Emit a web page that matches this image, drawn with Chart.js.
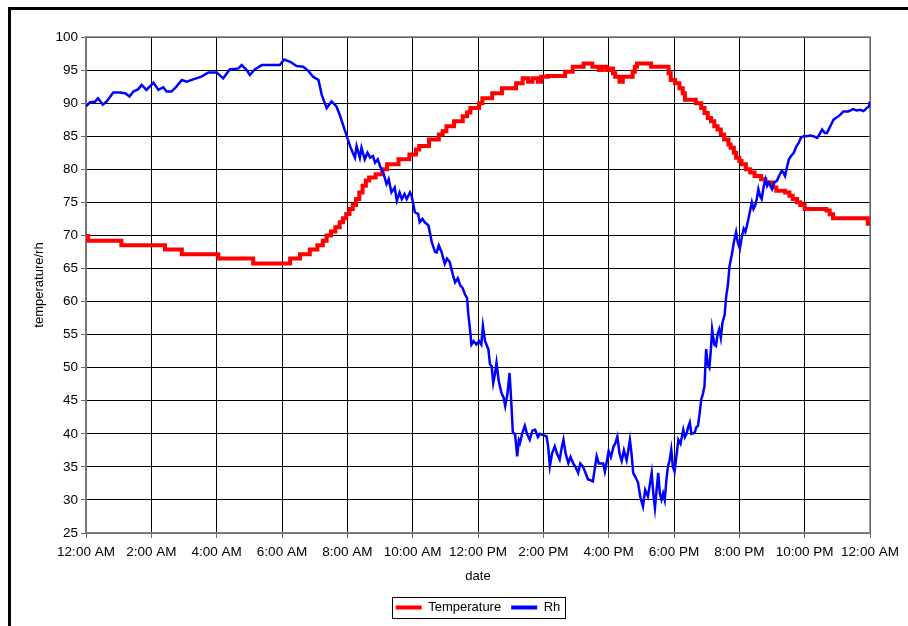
<!DOCTYPE html>
<html>
<head>
<meta charset="utf-8">
<script src="https://cdn.jsdelivr.net/npm/chart.js@4.4.1/dist/chart.umd.min.js"></script>
<style>
  body { margin: 0; background: #fff; overflow: hidden; }
  #frame { position: absolute; left: 8px; top: 7px; width: 1000px; height: 700px; border: 3px solid #000; }
  #tempChart { position: absolute; left: 0; top: 0; }
</style>
</head>
<body>
<div id="frame"></div>
<canvas id="tempChart" width="908" height="626"></canvas>
<script>
// minutes since midnight
const tempTime = [0, 4, 65, 145, 176, 243, 307, 375, 393, 411, 425, 435, 442, 450, 458, 466, 472, 478, 484, 490, 496, 502, 508, 514, 520, 532, 544, 553, 574, 594, 606, 612, 630, 648, 655, 662, 676, 692, 700, 706, 722, 728, 746, 764, 790, 802, 812, 820, 830, 836, 848, 880, 894, 914, 930, 942, 948, 956, 962, 968, 972, 980, 986, 1004, 1008, 1012, 1038, 1070, 1074, 1082, 1090, 1096, 1100, 1120, 1130, 1136, 1142, 1148, 1154, 1160, 1166, 1172, 1180, 1184, 1190, 1194, 1200, 1204, 1212, 1220, 1228, 1240, 1248, 1262, 1268, 1284, 1292, 1298, 1306, 1312, 1320, 1360, 1366, 1372, 1436, 1440];
const tempValue = [69.9, 69.2, 68.5, 67.85, 67.15, 66.5, 65.75, 66.5, 67.15, 67.85, 68.5, 69.2, 70, 70.6, 71.25, 72, 72.6, 73.25, 74, 74.6, 75.5, 76.5, 77.5, 78.3, 78.75, 79.25, 80, 80.75, 81.5, 82.25, 83, 83.5, 84.5, 85.25, 85.75, 86.5, 87.25, 88, 88.6, 89.25, 90, 90.75, 91.5, 92.25, 93, 93.75, 93.25, 93.75, 93.25, 94, 94.1, 94.75, 95.5, 96, 95.5, 95, 95.5, 95, 95.25, 94.5, 94, 93.25, 94, 94.75, 95.5, 96, 95.5, 94.5, 93.5, 93, 92.25, 91.5, 90.5, 90, 89.25, 88.5, 87.75, 87.25, 86.5, 86, 85.25, 84.5, 83.75, 83.25, 82.5, 81.75, 81.25, 80.75, 80, 79.5, 79, 78.5, 78, 77.25, 76.75, 76.5, 76, 75.5, 75, 74.6, 74, 73.75, 73.2, 72.6, 71.75, 71.75];

const rhTime = [0, 7, 17, 22, 31, 38, 50, 62, 72, 80, 87, 96, 102, 111, 124, 133, 142, 148, 157, 166, 176, 185, 197, 212, 225, 240, 252, 264, 280, 286, 295, 301, 310, 323, 356, 364, 375, 387, 399, 408, 417, 427, 433, 442, 451, 460, 466, 473, 479, 485, 490, 494, 497, 503, 506, 512, 517, 522, 527, 531, 536, 540, 546, 552, 556, 561, 567, 571, 576, 580, 585, 589, 595, 598, 604, 610, 613, 618, 622, 629, 635, 641, 644, 648, 653, 659, 663, 668, 674, 678, 683, 687, 692, 696, 700, 702, 705, 708, 712, 717, 722, 726, 729, 733, 739, 742, 745, 748, 751, 754, 758, 763, 767, 770, 774, 778, 781, 784, 788, 792, 795, 797, 801, 806, 810, 815, 820, 825, 830, 834, 840, 846, 849, 852, 856, 861, 865, 870, 874, 877, 881, 886, 890, 895, 899, 904, 908, 913, 918, 922, 926, 931, 935, 938, 942, 947, 950, 953, 957, 960, 964, 969, 972, 976, 980, 984, 988, 993, 996, 999, 1002, 1005, 1009, 1014, 1018, 1023, 1027, 1032, 1035, 1039, 1042, 1045, 1048, 1051, 1054, 1057, 1060, 1063, 1066, 1069, 1072, 1075, 1078, 1081, 1085, 1088, 1092, 1097, 1100, 1103, 1106, 1109, 1112, 1118, 1121, 1124, 1127, 1130, 1133, 1136, 1139, 1142, 1145, 1148, 1150, 1154, 1157, 1160, 1163, 1166, 1169, 1173, 1176, 1179, 1182, 1186, 1190, 1194, 1197, 1201, 1205, 1208, 1211, 1214, 1218, 1223, 1226, 1229, 1232, 1235, 1238, 1241, 1245, 1248, 1251, 1254, 1257, 1260, 1264, 1269, 1273, 1278, 1281, 1284, 1288, 1291, 1295, 1300, 1305, 1309, 1313, 1318, 1324, 1330, 1336, 1343, 1347, 1352, 1357, 1361, 1364, 1367, 1370, 1373, 1378, 1382, 1386, 1391, 1400, 1409, 1415, 1422, 1428, 1434, 1438, 1440];
const rhValue = [89.5, 90.1, 90.25, 90.75, 89.75, 90.25, 91.6, 91.6, 91.5, 91, 91.75, 92.1, 92.75, 92, 93.1, 92, 92.4, 91.75, 91.75, 92.5, 93.5, 93.25, 93.6, 94, 94.65, 94.65, 93.75, 95.1, 95.25, 95.75, 95, 94.25, 95.1, 95.75, 95.75, 96.6, 96.25, 95.6, 95.5, 94.9, 94, 93.5, 91.25, 89.25, 90.25, 89.5, 88.25, 86.5, 85, 83.5, 82.5, 81.75, 83.5, 81.75, 83.25, 81.5, 82.5, 81.75, 82, 81, 81.5, 80.5, 79.5, 77.75, 78.5, 76.5, 77.25, 75.25, 76.5, 75.5, 76.25, 75.5, 76.5, 76, 73.5, 73.25, 72, 72.5, 72, 71.5, 69, 67.5, 67.4, 68.5, 67.5, 65.7, 66.5, 66, 64, 62.9, 63.5, 62.5, 62, 61.1, 60.5, 58.3, 56, 53.5, 54, 53.5, 54, 53.5, 56.3, 54, 52.8, 50.5, 50.25, 47.7, 49, 50.75, 48, 46.2, 45.5, 44.2, 46, 49.2, 45, 40.15, 40, 36.6, 39, 38.6, 40, 41.2, 40, 39.1, 40.5, 40.6, 39.5, 40, 39.8, 39.6, 38, 35.1, 37, 38.1, 37, 36.1, 38, 39.1, 37, 35.6, 36.5, 35.5, 35, 34.1, 35.5, 35, 34, 33.1, 33, 32.8, 35, 36.6, 35.5, 35.5, 35.5, 34.3, 36, 37.4, 36.5, 38.1, 38.5, 39.6, 37, 35.9, 37.5, 36, 37.5, 39.1, 37, 34.1, 33.5, 32.6, 30.5, 29, 31.5, 30.55, 32, 34.1, 31, 28.8, 31.5, 34.1, 31, 30.05, 31, 30, 33, 35.1, 36, 37.6, 35, 34.3, 37, 39.1, 38.5, 40.6, 39.5, 40, 41, 41.7, 40, 40.15, 41, 41.2, 43, 45.2, 46, 47.2, 52.8, 50.5, 50, 53, 55.8, 53.5, 53.3, 55, 55.8, 54.5, 56.8, 58, 60.9, 62.5, 65.4, 67, 69, 70.5, 69, 68, 70, 71, 70.5, 71.5, 73, 75, 74, 74.5, 75.5, 77, 76, 75.5, 77.5, 78.5, 77.5, 78, 77.5, 77, 78, 78.25, 79, 79.75, 79.5, 79, 80.5, 81.5, 82, 82.5, 83.5, 84, 84.75, 85, 85, 85.1, 85, 84.75, 85.25, 86, 85.5, 85.5, 86, 86.5, 87, 87.5, 87.8, 88, 88.3, 88.75, 88.75, 89.1, 88.9, 89, 88.8, 89.25, 89.5, 90.25];

const xTickLabels = ['12:00 AM', '2:00 AM', '4:00 AM', '6:00 AM', '8:00 AM', '10:00 AM', '12:00 PM', '2:00 PM', '4:00 PM', '6:00 PM', '8:00 PM', '10:00 PM', '12:00 AM'];

const font = { family: '"Liberation Sans", Arial, sans-serif', size: 13.5 };

// gray frame round the plot and a border round the legend
const framePlugin = {
    id: 'frames',
    beforeDatasetsDraw(chart) {
        const { ctx, chartArea: a } = chart;
        ctx.save();
        ctx.strokeStyle = '#808080';
        ctx.lineWidth = 1.5;
        ctx.strokeRect(a.left, a.top, a.right - a.left, a.bottom - a.top);
        ctx.restore();
    },
    afterDraw(chart) {
        const boxes = chart.legend.legendHitBoxes;
        if (!boxes || !boxes.length) return;
        const first = boxes[0], last = boxes[boxes.length - 1];
        const ctx = chart.ctx;
        ctx.save();
        ctx.strokeStyle = '#000';
        ctx.lineWidth = 1;
        ctx.strokeRect(Math.round(first.left - 4) + 0.5, Math.round(first.top - 4) + 0.5,
            Math.round(last.left + last.width - first.left + 8), Math.round(first.height + 8));
        ctx.restore();
    }
};

const chartCanvas = document.getElementById('tempChart');
new Chart(chartCanvas, {
    type: 'line',
    data: {
        datasets: [{
            label: 'Temperature',
            data: tempTime.map((t, i) => ({ x: t, y: tempValue[i] })),
            borderColor: '#ff0000',
            backgroundColor: '#ff0000',
            borderWidth: 4,
            stepped: true,
            order: 1
        }, {
            label: 'Rh',
            data: rhTime.map((t, i) => ({ x: t, y: rhValue[i] })),
            borderColor: '#0000ff',
            backgroundColor: '#0000ff',
            borderWidth: 2.5,
            order: 0
        }]
    },
    options: {
        responsive: false,
        animation: false,
        layout: { padding: { left: 28, top: 37, right: 38, bottom: 2 } },
        elements: { point: { radius: 0 }, line: { tension: 0 } },
        scales: {
            x: {
                type: 'linear',
                min: 0,
                max: 1440,
                afterFit(scale) { scale.height = 58; },
                ticks: {
                    stepSize: 120,
                    maxRotation: 0,
                    autoSkip: false,
                    padding: 6,
                    color: '#000',
                    font: font,
                    callback: (value) => xTickLabels[value / 120]
                },
                grid: { color: '#000', lineWidth: 1, tickLength: 5, tickColor: '#666' },
                border: { color: '#808080', width: 1.5 },
                title: { display: true, text: 'date', color: '#000', font: { family: font.family, size: 13 }, padding: { top: 4, bottom: 7 } }
            },
            y: {
                min: 25,
                max: 100,
                afterFit(scale) { scale.width = 58; },
                ticks: { stepSize: 5, padding: 3, color: '#000', font: font },
                grid: { color: '#000', lineWidth: 1, tickLength: 5, tickColor: '#666' },
                border: { color: '#808080', width: 1.5 },
                title: { display: true, text: 'temperature/rh', color: '#000', font: { family: font.family, size: 13 }, padding: { top: 4, bottom: 4 } }
            }
        },
        plugins: {
            legend: {
                position: 'bottom',
                fullSize: false,
                labels: {
                    boxWidth: 26,
                    boxHeight: 4,
                    padding: 10,
                    color: '#000',
                    font: { family: font.family, size: 13 },
                    sort: (a, b) => a.datasetIndex - b.datasetIndex,
                    generateLabels(chart) {
                        return Chart.defaults.plugins.legend.labels.generateLabels(chart)
                            .map(item => Object.assign(item, { lineWidth: 0 }));
                    }
                }
            },
            tooltip: { enabled: false }
        }
    },
    plugins: [framePlugin]
});
</script>
</body>
</html>
